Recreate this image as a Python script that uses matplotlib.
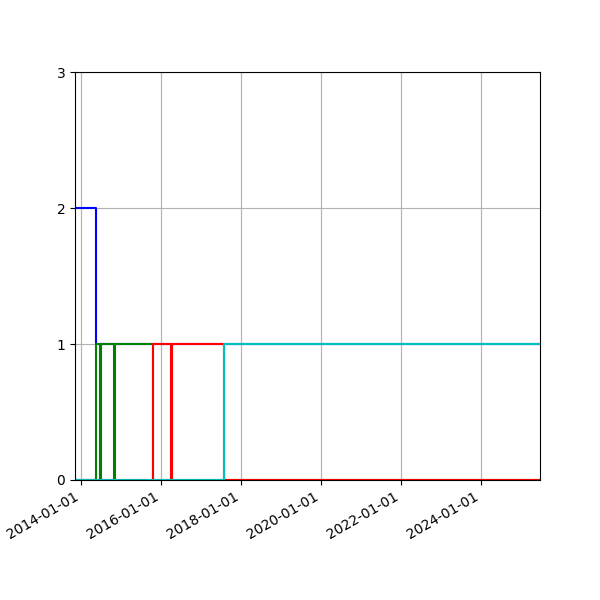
import matplotlib
matplotlib.use('Agg')
import matplotlib.pyplot as plt
import matplotlib.dates as mdates
import numpy as np

# step series: change dates and the value held from that date on
blue_dates = ['2013-11-10', '2014-05-23', '2025-06-21']
blue_vals = [2, 1, 1]

green_dates = ['2013-11-10', '2014-05-23', '2014-06-28', '2014-07-01',
               '2014-11-01', '2014-11-07', '2015-10-25', '2025-06-21']
green_vals = [0, 1, 0, 1, 0, 1, 0, 0]

red_dates = ['2013-11-10', '2015-10-25', '2016-04-02', '2016-04-11',
             '2017-08-04', '2025-06-21']
red_vals = [0, 1, 0, 1, 0, 0]

cyan_dates = ['2013-11-10', '2017-08-04', '2025-06-21']
cyan_vals = [0, 1, 1]

series = [(blue_dates, blue_vals, 'b'),
          (green_dates, green_vals, 'g'),
          (red_dates, red_vals, 'r'),
          (cyan_dates, cyan_vals, 'c')]

fig, ax = plt.subplots(figsize=(6, 6), dpi=100)
for dates, vals, col in series:
    d = np.array(dates, dtype='datetime64[D]')
    ax.step(d, vals, where='post', color=col)

ax.set_xlim(np.datetime64('2013-11-10'), np.datetime64('2025-06-21'))
ax.set_ylim(0, 3)
ax.set_yticks([0, 1, 2, 3])
ax.xaxis.set_major_locator(mdates.YearLocator(2))
ax.xaxis.set_major_formatter(mdates.DateFormatter('%Y-%m-%d'))
ax.grid(True)
fig.autofmt_xdate()
fig.savefig('out.png')
